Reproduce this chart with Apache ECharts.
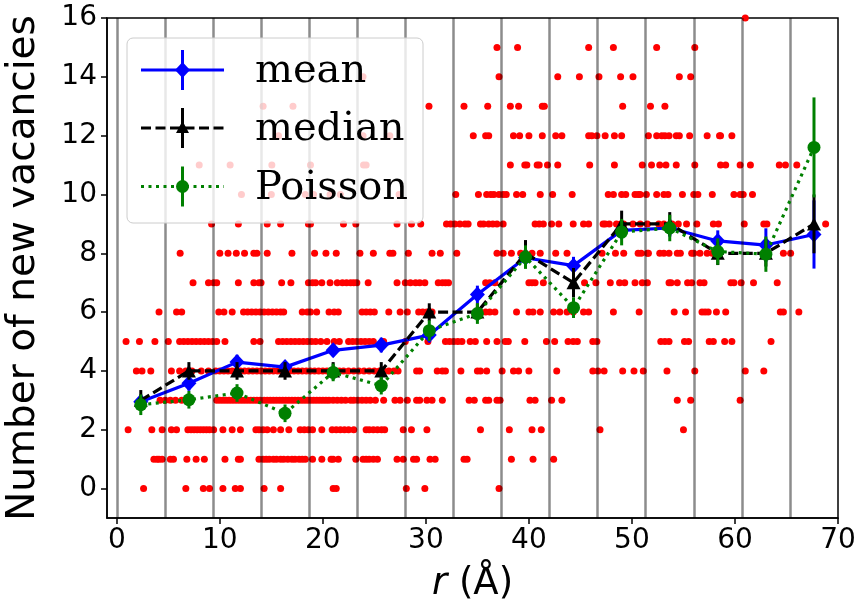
<!DOCTYPE html>
<html>
<head>
<meta charset="utf-8">
<script src="https://cdn.jsdelivr.net/npm/echarts@6/dist/echarts.min.js"></script>
<style>
html,body{margin:0;padding:0;background:#fff;}
#chart{width:860px;height:608px;}
</style>
</head>
<body>
<div id="chart"></div>
<script>
// ---- data ----
const binCenters = [2.33, 7.0, 11.67, 16.33, 21.0, 25.67, 30.33, 35.0, 39.67, 44.33, 49.0, 53.67, 58.33, 63.0, 67.67];
const binEdges = [0, 4.67, 9.33, 14.0, 18.67, 23.33, 28.0, 32.67, 37.33, 42.0, 46.67, 51.33, 56.0, 60.67, 65.33];

const meanVals = [2.95, 3.58, 4.3, 4.13, 4.7, 4.88, 5.22, 6.6, 7.85, 7.58, 8.78, 8.86, 8.42, 8.28, 8.64];
const meanErr  = [0.25, 0.25, 0.25, 0.2, 0.2, 0.25, 0.25, 0.3, 0.3, 0.3, 0.3, 0.3, 0.36, 0.57, 1.16];
const medianVals = [3, 4, 4, 4, 4, 4, 6, 6, 8, 7, 9, 9, 8, 8, 9];
const medianErr  = [0.35, 0.3, 0.3, 0.3, 0.3, 0.3, 0.3, 0.3, 0.45, 0.5, 0.45, 0.4, 0.4, 0.45, 1.0];
const poissonVals = [2.85, 3.02, 3.25, 2.56, 3.95, 3.5, 5.37, 5.95, 7.87, 6.15, 8.72, 8.86, 8.06, 7.97, 11.6];
const poissonErr  = [0.35, 0.3, 0.3, 0.3, 0.3, 0.3, 0.35, 0.35, 0.4, 0.35, 0.45, 0.45, 0.45, 0.6, 1.7];

const xTicks = [0, 10, 20, 30, 40, 50, 60, 70];
const yTicks = [0, 2, 4, 6, 8, 10, 12, 14, 16];

// individual samples: r positions for each number of new vacancies
const dotsAt0 = [2.6, 6.7, 8.4, 9.0, 10.3, 11.5, 12.0, 14.3, 15.9, 21.0, 21.3, 28.1, 29.9, 37.1];
const dotsAt1 = [3.6, 3.9, 4.1, 4.4, 5.2, 5.5, 6.8, 7.7, 8.5, 10.5, 11.8, 12.0, 13.8, 14.2, 14.5, 14.8, 15.2, 15.5, 15.9, 16.2, 16.6, 17.0, 17.3, 17.7, 18.0, 18.3, 19.0, 19.9, 20.8, 21.0, 21.5, 23.2, 23.9, 24.2, 24.5, 24.9, 25.3, 27.2, 27.8, 28.8, 29.1, 30.4, 30.9, 33.7, 34.0, 38.3, 40.4, 42.4];
const dotsAt2 = [1.1, 3.4, 4.4, 5.3, 5.8, 6.9, 7.2, 7.5, 7.8, 8.1, 8.4, 8.7, 9.0, 9.4, 10.3, 11.2, 12.0, 13.5, 13.8, 14.2, 14.6, 15.2, 15.9, 16.7, 17.8, 18.2, 18.6, 19.0, 19.9, 20.9, 21.3, 21.7, 22.1, 22.5, 23.0, 24.2, 24.5, 24.9, 25.3, 25.7, 26.0, 27.8, 28.6, 30.1, 35.3, 38.1, 40.3, 41.2, 46.9, 55.0];
const dotsAt3 = [4.2, 4.7, 5.2, 5.7, 6.3, 9.7, 10.0, 10.3, 10.6, 10.9, 11.2, 11.5, 11.8, 12.1, 12.4, 12.7, 13.0, 13.3, 13.6, 13.9, 14.3, 14.6, 14.9, 15.2, 15.5, 15.8, 16.1, 16.4, 16.7, 17.0, 17.3, 17.6, 17.9, 18.2, 18.5, 18.8, 19.1, 19.4, 19.7, 20.0, 20.3, 20.6, 21.0, 21.4, 21.8, 22.2, 22.7, 23.0, 23.4, 23.8, 24.2, 24.6, 25.1, 25.9, 27.0, 27.5, 28.2, 29.1, 29.4, 30.1, 30.6, 31.6, 34.2, 34.7, 35.8, 36.1, 36.9, 37.2, 40.1, 40.6, 42.2, 43.2, 54.4, 55.7, 60.5];
const dotsAt4 = [1.9, 2.45, 3.3, 5.3, 6.1, 6.7, 7.3, 8.2, 8.9, 9.6, 10.0, 10.4, 10.8, 11.2, 11.6, 12.0, 12.4, 12.8, 13.2, 13.6, 14.0, 14.4, 14.8, 15.2, 15.6, 16.0, 16.4, 16.8, 17.2, 17.6, 18.0, 18.4, 18.8, 19.2, 19.6, 20.0, 20.4, 20.8, 21.2, 21.6, 22.0, 22.5, 23.0, 23.5, 24.0, 24.5, 25.0, 25.5, 25.9, 26.4, 26.9, 27.3, 29.1, 29.4, 31.1, 31.6, 31.9, 33.4, 35.0, 35.3, 35.9, 37.4, 38.5, 39.0, 40.0, 42.7, 46.2, 46.7, 47.3, 49.1, 50.2, 51.1, 53.4, 56.1, 61.0, 62.8];
const dotsAt5 = [0.9, 2.2, 3.7, 5.0, 6.1, 6.5, 6.9, 7.3, 7.7, 8.1, 8.5, 8.9, 9.3, 9.7, 10.5, 13.3, 13.9, 15.7, 16.1, 16.5, 16.9, 17.3, 17.7, 18.1, 18.5, 18.9, 19.3, 19.8, 20.4, 21.1, 21.6, 22.5, 22.9, 23.3, 23.7, 24.1, 24.5, 24.9, 25.9, 28.0, 30.2, 31.9, 32.3, 32.7, 33.1, 33.5, 34.3, 34.8, 35.9, 36.9, 37.7, 38.0, 39.6, 41.7, 42.5, 43.8, 44.3, 44.7, 46.2, 46.6, 52.8, 53.2, 53.6, 55.1, 55.5, 57.5, 57.9, 59.0, 59.7, 63.5];
const dotsAt6 = [4.1, 5.8, 6.3, 9.9, 10.4, 11.2, 12.3, 12.7, 13.1, 13.5, 13.9, 14.3, 14.7, 15.1, 15.5, 15.9, 16.2, 18.0, 18.5, 18.8, 19.4, 20.6, 21.1, 21.5, 23.8, 24.2, 24.6, 25.0, 26.4, 27.5, 28.2, 29.3, 29.7, 30.1, 30.6, 35.8, 36.2, 36.7, 38.8, 40.0, 40.4, 41.1, 42.4, 43.0, 43.7, 44.3, 45.3, 45.8, 48.2, 50.7, 54.1, 55.2, 56.8, 57.1, 57.4, 58.2, 59.1, 64.4, 64.7, 66.2];
const dotsAt7 = [7.4, 8.9, 9.4, 9.7, 11.8, 13.3, 13.8, 14.0, 16.0, 16.9, 18.6, 19.0, 19.3, 19.9, 20.7, 21.4, 21.9, 22.3, 22.7, 23.0, 23.3, 24.4, 27.2, 28.0, 28.5, 29.0, 29.4, 29.9, 31.2, 31.6, 31.9, 32.2, 35.8, 36.2, 36.7, 40.0, 40.3, 40.6, 41.4, 45.4, 46.5, 47.9, 48.8, 49.3, 50.3, 51.0, 51.5, 53.6, 53.8, 54.4, 55.4, 55.8, 56.6, 57.0, 59.6, 59.9, 60.6, 61.8, 64.1];
const dotsAt8 = [6.15, 10.0, 10.8, 11.6, 12.4, 13.3, 13.6, 14.6, 17.0, 19.2, 20.3, 21.3, 23.6, 24.9, 26.5, 26.8, 28.3, 30.6, 31.4, 33.0, 36.9, 37.5, 38.3, 39.2, 40.3, 41.1, 42.6, 43.7, 47.1, 48.4, 49.2, 50.6, 50.9, 51.5, 51.6, 52.7, 53.1, 53.6, 54.4, 54.7, 55.8, 56.0, 56.6, 57.3, 57.8, 64.7, 65.4];
const dotsAt9 = [9.2, 11.8, 14.6, 15.9, 18.6, 18.8, 22.0, 23.2, 27.2, 28.6, 29.5, 32.0, 32.4, 32.8, 33.3, 33.8, 34.1, 35.3, 35.6, 36.1, 36.5, 36.9, 37.5, 40.6, 41.0, 41.4, 42.2, 42.9, 44.3, 45.3, 45.8, 47.2, 47.4, 47.8, 48.5, 48.9, 49.2, 50.1, 50.8, 51.5, 52.6, 53.1, 53.9, 54.5, 55.3, 56.3, 57.9, 58.4, 60.9, 62.8, 63.1, 68.8];
const dotsAt10 = [12.1, 15.0, 18.3, 19.1, 20.7, 21.7, 27.4, 32.9, 35.1, 35.9, 36.3, 36.6, 37.1, 37.5, 37.8, 38.8, 39.4, 41.1, 42.3, 44.2, 47.7, 48.2, 49.0, 49.4, 50.3, 50.6, 50.8, 51.4, 52.4, 53.1, 53.5, 54.9, 56.0, 56.4, 57.8, 59.9, 60.5, 60.8, 61.7];
const dotsAt11 = [8.0, 11.0, 15.05, 18.8, 23.95, 24.2, 38.2, 39.6, 39.8, 40.8, 41.0, 41.8, 42.8, 45.9, 48.3, 51.0, 51.9, 52.7, 53.3, 54.3, 56.1, 58.6, 59.1, 60.5, 61.5, 64.3, 64.9, 66.0];
const dotsAt12 = [15.7, 23.9, 26.5, 34.6, 35.8, 36.1, 38.5, 39.1, 40.0, 41.3, 42.6, 43.2, 45.8, 46.1, 46.6, 47.4, 48.3, 49.0, 51.6, 52.4, 52.9, 53.2, 53.6, 54.3, 54.6, 55.6, 57.3, 58.5, 58.6, 59.7];
const dotsAt13 = [14.2, 17.1, 30.3, 33.7, 36.0, 38.2, 39.0, 41.3, 41.5, 49.1, 51.8, 53.2];
const dotsAt14 = [23.9, 37.1, 42.8, 44.9, 46.8, 48.9, 50.1, 54.6, 55.7];
const dotsAt15 = [36.9, 38.9, 45.8, 48.2, 52.4, 56.1];
const dotsAt16 = [61.0];

const dotRows = [dotsAt0, dotsAt1, dotsAt2, dotsAt3, dotsAt4, dotsAt5, dotsAt6, dotsAt7, dotsAt8,
                 dotsAt9, dotsAt10, dotsAt11, dotsAt12, dotsAt13, dotsAt14, dotsAt15, dotsAt16];
const scatterData = [];
dotRows.forEach((row, count) => row.forEach(r => scatterData.push([r, count])));

const zip = (a, b) => a.map((v, i) => [v, b[i]]);
const zip3 = (a, b, c) => a.map((v, i) => [v, b[i], c[i]]);

function errSeries(vals, errs, color, z) {
  return {
    type: 'custom', z: z, silent: true,
    data: zip3(binCenters, vals, errs),
    renderItem: function (params, api) {
      const x = api.value(0), y = api.value(1), e = api.value(2);
      const p1 = api.coord([x, y - e]);
      const p2 = api.coord([x, y + e]);
      return { type: 'line', shape: { x1: p1[0], y1: p1[1], x2: p2[0], y2: p2[1] },
               style: { stroke: color, lineWidth: 3 } };
    }
  };
}

const chart = echarts.init(document.getElementById('chart'), null, { renderer: 'canvas' });

// legend drawn as graphic elements (handles contain an error bar)
const LX0 = 141, LX1 = 224, LMX = 182.5, LT = 255;
const rows = [
  { y: 70, color: '#0000ff', dash: null, label: 'mean', sym: 'diamond' },
  { y: 128, color: '#000000', dash: [10, 4.5], label: 'median', sym: 'triangle' },
  { y: 186.5, color: '#008000', dash: [3, 4.5], label: 'Poisson', sym: 'circle' }
];
const legendGraphics = [{
  type: 'rect', z: 100, shape: { x: 127, y: 38, width: 296, height: 185, r: 6 },
  style: { fill: 'rgba(255,255,255,0.8)', stroke: '#cccccc', lineWidth: 1 }
}];
rows.forEach(r => {
  legendGraphics.push({ type: 'line', z: 101, shape: { x1: LX0, y1: r.y, x2: LX1, y2: r.y },
    style: { stroke: r.color, lineWidth: 3.2, lineDash: r.dash, lineCap: 'butt' } });
  legendGraphics.push({ type: 'line', z: 101, shape: { x1: LMX, y1: r.y - 20, x2: LMX, y2: r.y + 20 },
    style: { stroke: r.color, lineWidth: 3 } });
  let marker;
  if (r.sym === 'diamond') {
    marker = { type: 'polygon', shape: { points: [[LMX, r.y - 8], [LMX + 7.5, r.y], [LMX, r.y + 8], [LMX - 7.5, r.y]] } };
  } else if (r.sym === 'triangle') {
    marker = { type: 'polygon', shape: { points: [[LMX, r.y - 7], [LMX + 6.5, r.y + 5], [LMX - 6.5, r.y + 5]] } };
  } else {
    marker = { type: 'circle', shape: { cx: LMX, cy: r.y, r: 6.5 } };
  }
  marker.z = 102;
  marker.style = { fill: r.color };
  legendGraphics.push(marker);
  legendGraphics.push({ type: 'text', z: 102, x: LT, y: r.y + 2,
    style: { text: r.label, fill: '#000', font: '40px "DejaVu Serif"', verticalAlign: 'middle', align: 'left' } });
});

const option = {
  animation: false,
  backgroundColor: '#ffffff',
  grid: { left: 107, right: 22, top: 18, bottom: 90, outerBoundsMode: 'none', containLabel: false,
          show: true, borderColor: '#000', borderWidth: 1.5, backgroundColor: 'transparent' },
  xAxis: {
    type: 'value', min: -0.95, max: 70,
    name: '{i|r} (Å)', nameLocation: 'middle', nameGap: 48,
    nameTextStyle: { fontFamily: 'DejaVu Sans', fontSize: 37, color: '#000',
      rich: { i: { fontFamily: 'DejaVu Sans', fontSize: 37, fontStyle: 'italic', color: '#000' } } },
    axisLine: { show: true, onZero: false, lineStyle: { color: '#000', width: 1.5 } },
    axisTick: { show: true, length: 6, lineStyle: { color: '#000', width: 1.5 }, customValues: xTicks },
    axisLabel: { customValues: xTicks, fontFamily: 'DejaVu Sans', fontSize: 28, color: '#000', margin: 9 },
    splitLine: { show: false }
  },
  yAxis: {
    type: 'value', min: -1, max: 16,
    name: 'Number of new vacancies', nameLocation: 'middle', nameGap: 64, nameRotate: 90,
    nameTextStyle: { fontFamily: 'DejaVu Sans', fontSize: 39, color: '#000' },
    axisLine: { show: true, onZero: false, lineStyle: { color: '#000', width: 1.5 } },
    axisTick: { show: true, length: 6, lineStyle: { color: '#000', width: 1.5 }, customValues: yTicks },
    axisLabel: { customValues: yTicks, fontFamily: 'DejaVu Sans', fontSize: 28, color: '#000', margin: 10 },
    splitLine: { show: false }
  },
  series: [
    { type: 'scatter', z: 1, silent: true, data: scatterData, symbol: 'circle', symbolSize: 7,
      itemStyle: { color: '#ff0000', opacity: 1 } },
    { type: 'scatter', z: 2, silent: true, data: [],
      markLine: { silent: true, symbol: 'none', label: { show: false },
        lineStyle: { color: 'rgba(0,0,0,0.45)', width: 2.5, type: 'solid' },
        data: binEdges.map(v => ({ xAxis: v })) } },
    errSeries(meanVals, meanErr, '#0000ff', 3),
    { type: 'line', z: 3, silent: true, data: zip(binCenters, meanVals), symbol: 'diamond', symbolSize: [15, 16],
      lineStyle: { color: '#0000ff', width: 3.2 }, itemStyle: { color: '#0000ff' } },
    errSeries(medianVals, medianErr, '#000000', 4),
    { type: 'line', z: 4, silent: true, data: zip(binCenters, medianVals), symbol: 'triangle', symbolSize: [14, 13],
      lineStyle: { color: '#000000', width: 3.2, type: [10, 4.5] }, itemStyle: { color: '#000000' } },
    errSeries(poissonVals, poissonErr, '#008000', 5),
    { type: 'line', z: 5, silent: true, data: zip(binCenters, poissonVals), symbol: 'circle', symbolSize: 13,
      lineStyle: { color: '#008000', width: 3.2, type: [3, 4.5] }, itemStyle: { color: '#008000' } }
  ],
  graphic: legendGraphics
};
chart.setOption(option);
</script>
</body>
</html>
